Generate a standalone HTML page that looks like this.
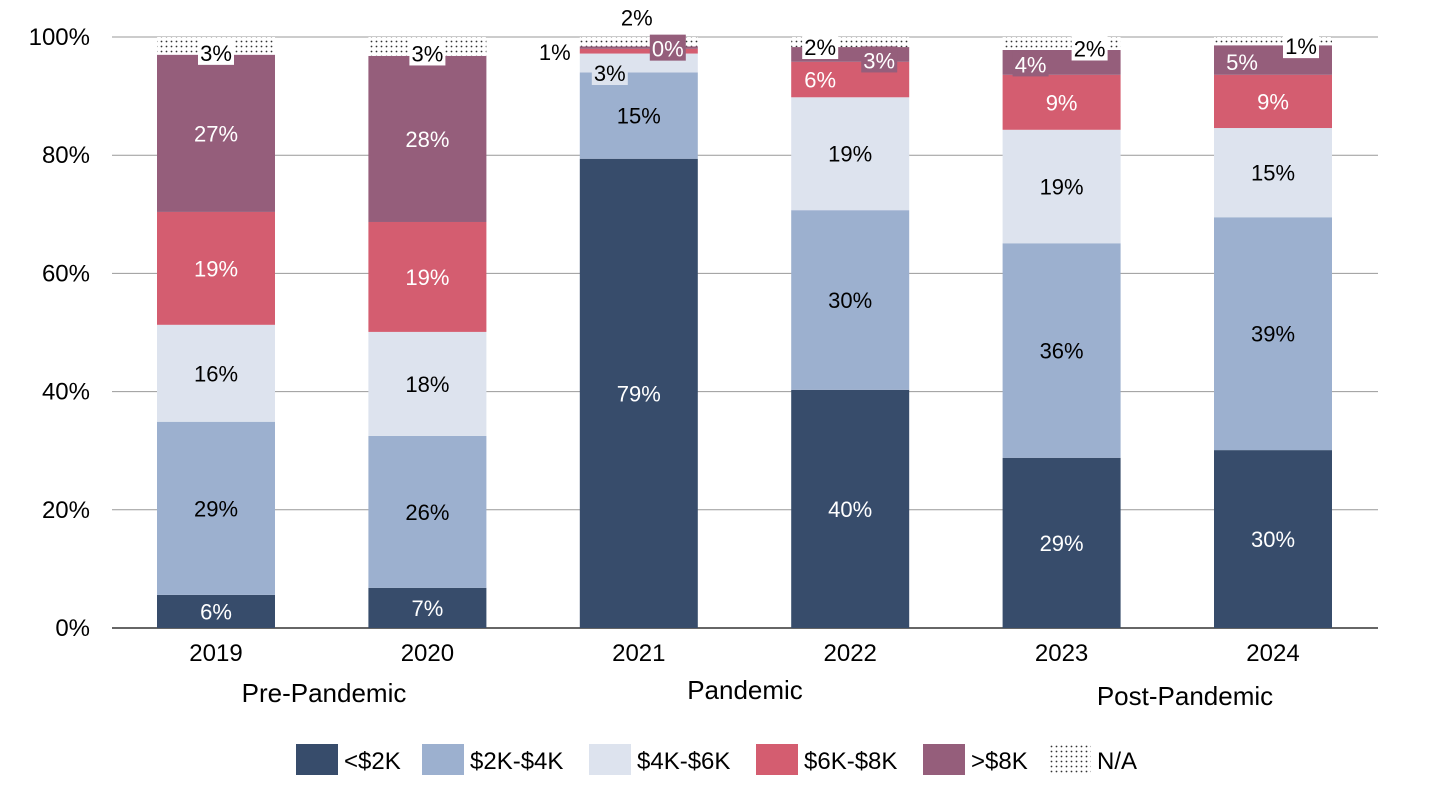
<!DOCTYPE html>
<html><head><meta charset="utf-8"><style>
body{margin:0;background:#fff;font-family:"Liberation Sans",sans-serif}
svg text{font-family:"Liberation Sans",sans-serif}
</style></head><body>
<svg id="chart" width="1430" height="802" xmlns="http://www.w3.org/2000/svg">
<defs><pattern id="dots" width="5" height="5" patternUnits="userSpaceOnUse"><rect width="5" height="5" fill="#fff"/><circle cx="1.5" cy="1.5" r="0.9" fill="#333"/></pattern></defs>
<g id="grid"></g><g id="bars"></g><g id="labels"></g><g id="axes"></g><g id="legend"></g>
</svg>
<script>
const years=["2019","2020","2021","2022","2023","2024"];
const seriesNames=["<$2K","$2K-$4K","$4K-$6K","$6K-$8K",">$8K","N/A"];
const s0=[5.6,6.8,79.4,40.3,28.8,30.1];
const s1=[29.3,25.7,14.6,30.4,36.3,39.4];
const s2=[16.4,17.6,3.2,19.1,19.2,15.1];
const s3=[19.1,18.6,0.8,6.0,9.3,9.0];
const s4=[26.6,28.1,0.4,2.5,4.2,5.0];
const s5=[3.0,3.2,1.6,1.7,2.2,1.4];
const yTicks=[0,20,40,60,80,100];
const colors=["#374c6b","#9cb0cf","#dde3ee","#d45d70","#955e7b","url(#dots)"];
const textCol=["#fff","#000","#000","#fff","#fff","#000"];
const series=[s0,s1,s2,s3,s4,s5];
const NS="http://www.w3.org/2000/svg";
const y0=628,y100=37,xL=112,xR=1378,bw=118;
const yS=v=>y0-(y0-y100)*v/100;
const xC=i=>216+i*211.4;
function mk(tag,attrs,parent){const e=document.createElementNS(NS,tag);for(const k in attrs)e.setAttribute(k,attrs[k]);parent.appendChild(e);return e;}
const grid=document.getElementById('grid'),bars=document.getElementById('bars'),labels=document.getElementById('labels'),axes=document.getElementById('axes'),legend=document.getElementById('legend');
yTicks.forEach(t=>{
 const l=mk('line',{x1:xL,x2:xR,y1:yS(t),y2:yS(t),stroke:t===0?'#333':'#999','stroke-width':t===0?1.5:1},grid);
 
 
 const tx=mk('text',{x:90,y:yS(t)+8,'text-anchor':'end','font-size':24,fill:'#000'},axes);
 tx.textContent=t+'%';
 
 
});
function label(txt,x,y,bg,fg){
 const w=txt.length*13+10;
 if(bg){const r=mk('rect',{x:x-w/2,y:y-14,width:w,height:26,fill:bg},labels);
 
 }
 const t=mk('text',{x:x,y:y+8,'text-anchor':'middle','font-size':22,fill:fg},labels);
 t.textContent=txt;
 
 
}
const solidBg=["#374c6b","#9cb0cf","#dde3ee","#d45d70","#955e7b","#fff"];
years.forEach((yr,i)=>{
 let cum=0;const cx=xC(i);
 series.forEach((s,k)=>{
  const v=s[i];const top=yS(cum+v),bot=yS(cum);
  const r=mk('rect',{x:cx-bw/2,y:top,width:bw,height:bot-top,fill:colors[k]},bars);
  
  
  const mid=(top+bot)/2;const txt=Math.round(v)+'%';
  if(v>=8){label(txt,cx,mid,null,textCol[k]);}
  else if(i===2){
   if(k===2)label(txt,cx-29,mid+10,solidBg[2],'#000');
   if(k===3)label(txt,cx-84,mid+1,null,'#000');
   if(k===4)label(txt,cx+29,mid+1,solidBg[4],'#fff');
   if(k===5)label(txt,cx-2,mid-24,null,'#000');
  } else if(i<2){
   if(k===5)label(txt,cx,mid+7,'#fff','#000');
   else label(txt,cx,mid,null,textCol[k]);
  } else {
   if(k===5)label(txt,cx+(i===3?-30:28),mid+5,'#fff','#000');
   else if(k===4)label(txt,cx+(i===3?29:-31),mid+(i===3?6:2),solidBg[4],'#fff');
   else if(k===3&&i===3)label(txt,cx-30,mid,null,'#fff');
   else label(txt,cx,mid,null,textCol[k]);
  }
  cum+=v;
 });
 const t=mk('text',{x:cx,y:661,'text-anchor':'middle','font-size':24,fill:'#000'},axes);
 t.textContent=yr;
 
 
});
[["Pre-Pandemic",324,702],["Pandemic",745,699],["Post-Pandemic",1185,705]].forEach(g=>{
 const t=mk('text',{x:g[1],y:g[2],'text-anchor':'middle','font-size':26,fill:'#000'},axes);
 t.textContent=g[0];
 
 
});
const legX=[296,422,589,756,923,1049];
seriesNames.forEach((n,k)=>{
 const r=mk('rect',{x:legX[k],y:744,width:42,height:31,fill:colors[k]},legend);
 
 
 const t=mk('text',{x:legX[k]+48,y:769,'font-size':24,fill:'#000'},legend);
 t.textContent=n;
 
 
});
</script>
</body></html>
